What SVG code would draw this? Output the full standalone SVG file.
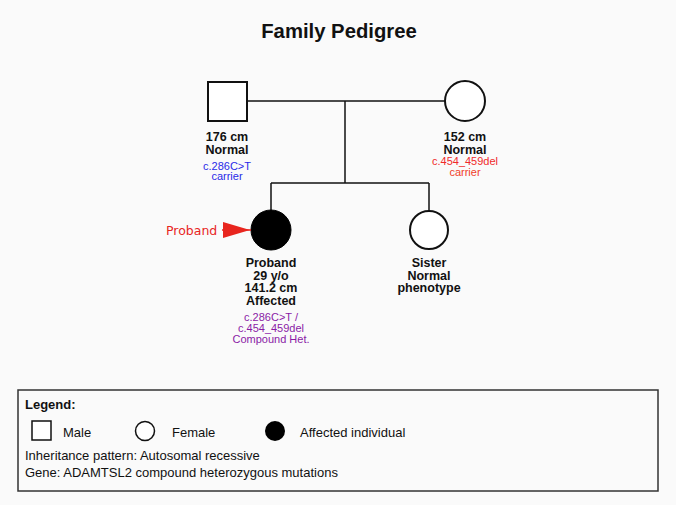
<svg xmlns="http://www.w3.org/2000/svg" width="676" height="505" viewBox="0 0 676 505">
<style>
.t{font-family:"Liberation Sans",Arial,sans-serif;text-anchor:middle}
.b{font-weight:bold;font-size:12.5px;fill:#111}
.s{font-size:11px}
.sym{stroke:#111;stroke-width:2;fill:#fff}
.ln{stroke:#111;stroke-width:1.5;fill:none}
.lg{font-family:"Liberation Sans",Arial,sans-serif;font-size:13px;fill:#111}
</style>
<rect width="676" height="505" fill="#fafafa"/>
<text class="t" x="339" y="38" font-size="20.3" font-weight="bold" fill="#111">Family Pedigree</text>
<g id="connectors">
<line class="ln" x1="247" y1="101" x2="445" y2="101"/>
<line class="ln" x1="345" y1="101" x2="345" y2="183"/>
<line class="ln" x1="271" y1="183" x2="429" y2="183"/>
<line class="ln" x1="271" y1="183" x2="271" y2="211"/>
<line class="ln" x1="429" y1="183" x2="429" y2="211"/>
</g>
<g id="father">
<rect class="sym" x="208" y="82" width="39" height="39"/>
<text class="t b" x="227" y="141">176 cm</text>
<text class="t b" x="227" y="153.5">Normal</text>
<text class="t s" x="227" y="169.5" fill="#2a2ae8">c.286C&gt;T</text>
<text class="t s" x="227" y="180" fill="#2a2ae8">carrier</text>
</g>
<g id="mother">
<circle class="sym" cx="465" cy="101" r="20"/>
<text class="t b" x="465" y="141">152 cm</text>
<text class="t b" x="465" y="153.5">Normal</text>
<text class="t s" x="465" y="165" fill="#f02a2a">c.454_459del</text>
<text class="t s" x="465" y="176" fill="#f0402a">carrier</text>
</g>
<g id="proband">
<circle cx="271" cy="230" r="20" fill="#000" stroke="#000" stroke-width="1"/>
<text class="t b" x="271" y="267">Proband</text>
<text class="t b" x="271" y="279.7">29 y/o</text>
<text class="t b" x="271" y="292.4">141.2 cm</text>
<text class="t b" x="271" y="305">Affected</text>
<text class="t s" x="271" y="321" fill="#8a1aa6">c.286C&gt;T /</text>
<text class="t s" x="271" y="332" fill="#8a1aa6">c.454_459del</text>
<text class="t s" x="271" y="343" fill="#8a1aa6">Compound Het.</text>
</g>
<g id="proband-arrow">
<line x1="222" y1="230" x2="251" y2="230" stroke="#e8251e" stroke-width="1.5"/>
<polygon points="223,222 250,230 223,238" fill="#e8251e"/>
<text x="166" y="235" font-family="DejaVu Sans,Verdana,sans-serif" font-size="12.5" fill="#e8251e">Proband</text>
</g>
<g id="sister">
<circle class="sym" cx="429" cy="230" r="19"/>
<text class="t b" x="429" y="267">Sister</text>
<text class="t b" x="429" y="279.7">Normal</text>
<text class="t b" x="429" y="292.4">phenotype</text>
</g>
<g id="legend">
<rect x="18" y="390" width="640" height="101" fill="none" stroke="#333" stroke-width="1.5"/>
<text class="lg" x="25" y="409" font-size="15.5" font-weight="bold">Legend:</text>
<rect x="32" y="421" width="19" height="19" fill="#fff" stroke="#111" stroke-width="1.5"/>
<text class="lg" x="63" y="437">Male</text>
<circle cx="145" cy="431" r="9.5" fill="#fff" stroke="#111" stroke-width="1.5"/>
<text class="lg" x="172" y="437">Female</text>
<circle cx="275" cy="431" r="10" fill="#000"/>
<text class="lg" x="300" y="437">Affected individual</text>
<text class="lg" x="25" y="460" font-size="12">Inheritance pattern: Autosomal recessive</text>
<text class="lg" x="25" y="477" font-size="12">Gene: ADAMTSL2 compound heterozygous mutations</text>
</g>
</svg>
